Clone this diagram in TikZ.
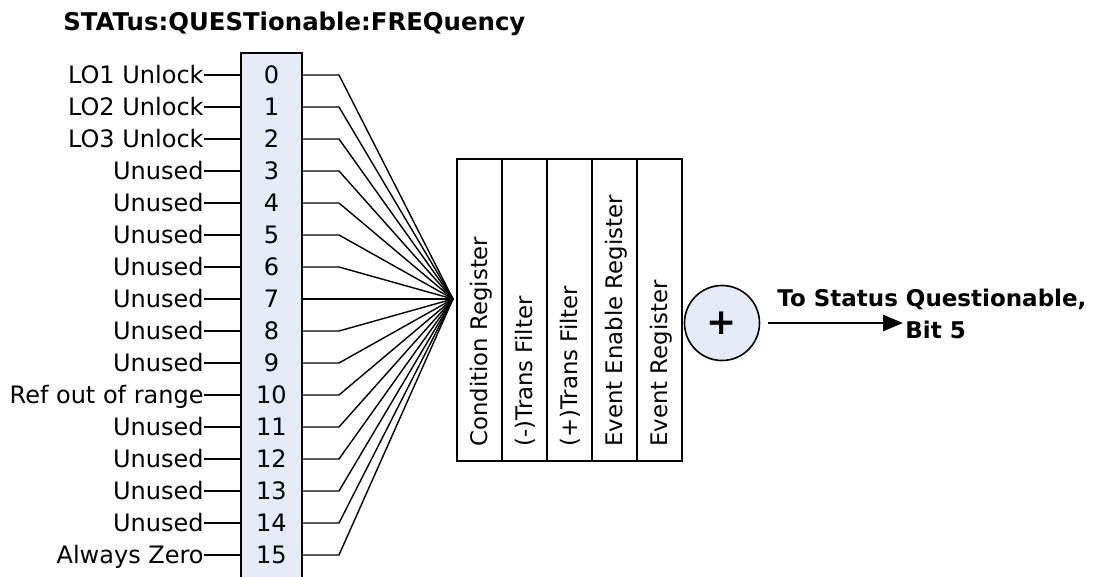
\documentclass[tikz,border=0pt]{standalone}
\usepackage{fontspec}
\setmainfont{DejaVu Sans}
\usetikzlibrary{arrows.meta,positioning}
\definecolor{bitfill}{HTML}{E4EBF6}

\begin{document}
\begin{tikzpicture}[x=0.5pt,y=-0.5pt,
	lbl/.style={font=\fontsize{12}{14}\selectfont, inner sep=0pt, anchor=east, text height=8.7pt, text depth=0pt},
	bit/.style={font=\fontsize{12}{14}\selectfont, minimum width=30.5pt, minimum height=16pt, inner sep=0pt, text height=8.7pt, text depth=0pt},
	wire/.style={line width=0.7pt},
	regcol/.style={draw, line width=0.8pt, minimum width=22.5pt, minimum height=151pt, inner sep=0pt},
	reglbl/.style={font=\fontsize{11.4}{13}\selectfont, rotate=90, anchor=west, inner sep=0pt, text height=8.3pt, text depth=0pt},
	hdr/.style={font=\bfseries\fontsize{11.5}{14}\selectfont, anchor=west, inner sep=0pt, text height=8.5pt, text depth=0pt}]
	\useasboundingbox (0,0) rectangle (1098,577);
	\node[hdr, font=\bfseries\fontsize{12.2}{14}\selectfont] (title) at (63,22) {STATus:QUESTionable:FREQuency};
	\draw[fill=bitfill, line width=0.8pt] (241,590) -- (241,53) -- (302,53) -- (302,590);
	\coordinate (conv) at (453,299);
	\foreach \lab [count=\i from 0] in {LO1 Unlock,LO2 Unlock,LO3 Unlock,Unused,Unused,Unused,Unused,Unused,Unused,Unused,Ref out of range,Unused,Unused,Unused,Unused,Always Zero}{
		\node[bit] (b\i) at (271.5,75+32*\i) {\i};
		\node[lbl] (l\i) at (204,75+32*\i) {\lab};
		\coordinate (k\i) at (339,75+32*\i);
		\draw[wire] (l\i.east) -- (b\i.west);
		\draw[wire] (b\i.east) -- (k\i) -- (conv);
	}
	\foreach \t [count=\j from 0] in {{Condition Register},{(-)Trans Filter},{(+)Trans Filter},{Event Enable Register},{Event Register}}{
		\node[regcol] (r\j) at (479.5+45*\j,310) {};
		\node[reglbl] (t\j) at (479.5+45*\j,447) {\t};
	}
	\node[circle, draw, fill=bitfill, line width=0.8pt, minimum size=37.5pt, inner sep=0pt, font=\bfseries\fontsize{18}{20}\selectfont] (sum) at (722,323) {+};
	\coordinate (tip) at (903,323);
	\draw[line width=1.3pt, -{Triangle[length=10pt,width=8pt]}] ([xshift=4pt]sum.east) -- (tip);
	\node[hdr] (dest) at (777,298) {To Status Questionable,};
	\node[hdr] (bit5) at (905,330) {Bit 5};
\end{tikzpicture}
\end{document}
